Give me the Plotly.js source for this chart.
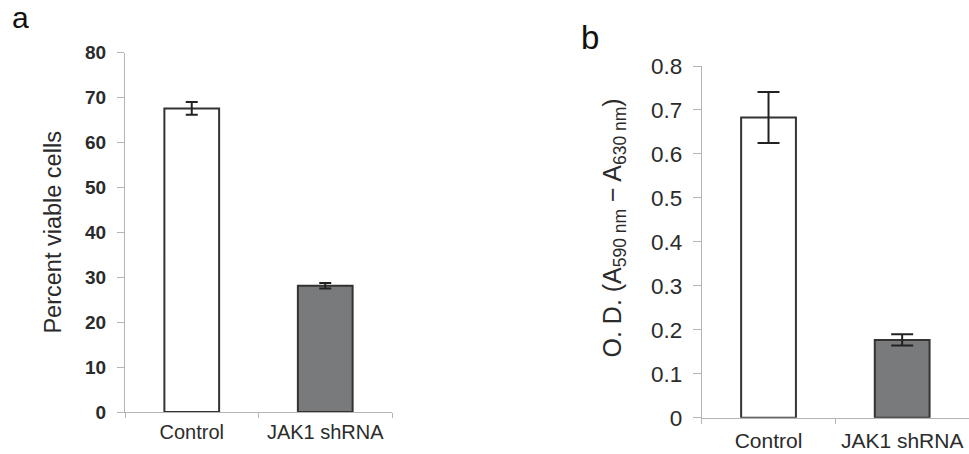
<!DOCTYPE html>
<html>
<head>
<meta charset="utf-8">
<script src="https://cdn.plot.ly/plotly-3.0.1.min.js"></script>
<style>
  html, body { margin: 0; padding: 0; background: #fff; }
  #chart { width: 969px; height: 454px; }
</style>
</head>
<body>
<div id="chart"></div>
<script>
// Cell viability (a) and crystal-violet O.D. (b), control vs JAK1 knockdown
const categories = ['Control', 'JAK1 shRNA'];
const viableMean = [67.6, 28.1];
const viableErr = [1.4, 0.6];
const odMean = [0.683, 0.177];
const odErr = [0.058, 0.013];
const barFill = ['#ffffff', '#787a7b'];

const FONT = 'Liberation Sans, Arial, Helvetica, sans-serif';
const INK = '#2b2b2b';
const AXIS = '#b4b4b4';

const barStyle = {
  color: barFill,
  line: { color: '#333333', width: 2 }
};

const traces = [
  {
    type: 'bar', x: categories, y: viableMean, xaxis: 'x', yaxis: 'y',
    width: 0.41, marker: barStyle, hoverinfo: 'x+y',
    error_y: { type: 'data', array: viableErr, visible: true, color: '#222', thickness: 2, width: 6 }
  },
  {
    type: 'bar', x: categories, y: odMean, xaxis: 'x2', yaxis: 'y2',
    width: 0.41, marker: barStyle, hoverinfo: 'x+y',
    error_y: { type: 'data', array: odErr, visible: true, color: '#222', thickness: 2, width: 11 }
  }
];

const xCommon = {
  type: 'category',
  showline: true, linecolor: AXIS, linewidth: 1,
  ticks: 'outside', tickson: 'boundaries', ticklen: 5, tickcolor: AXIS,
  showgrid: false, zeroline: false, fixedrange: true
};
const yCommon = {
  showline: true, linecolor: AXIS, linewidth: 1,
  ticks: 'outside', ticklen: 7, tickcolor: AXIS,
  showgrid: false, zeroline: false, fixedrange: true
};

const layout = {
  width: 969, height: 454,
  margin: { l: 0, r: 0, t: 0, b: 0 },
  paper_bgcolor: '#ffffff', plot_bgcolor: '#ffffff',
  showlegend: false,
  font: { family: FONT, color: INK },
  bargap: 0.59,
  xaxis: Object.assign({}, xCommon, {
    domain: [125 / 969, 392 / 969], anchor: 'y',
    tickfont: { family: FONT, size: 20, color: INK },
    ticklabelstandoff: 2
  }),
  yaxis: Object.assign({}, yCommon, {
    domain: [42 / 454, 401.3 / 454], anchor: 'x',
    range: [0, 80], dtick: 10,
    tickfont: { family: FONT, size: 19, color: INK, weight: 'bold' },
    ticklabelstandoff: 7,
    title: { text: 'Percent viable cells', font: { family: FONT, size: 23.5, color: INK }, standoff: 16 }
  }),
  xaxis2: Object.assign({}, xCommon, {
    domain: [701.7 / 969, 1], anchor: 'y2',
    tickfont: { family: FONT, size: 21, color: INK },
    ticklabelstandoff: 4
  }),
  yaxis2: Object.assign({}, yCommon, {
    domain: [36.3 / 454, 388 / 454], anchor: 'x2',
    range: [0, 0.8], dtick: 0.1, ticklen: 8,
    tickfont: { family: FONT, size: 22.5, color: INK },
    ticklabelstandoff: 6
  }),
  annotations: [
    { text: 'a', xref: 'paper', yref: 'paper', x: 10 / 969, y: 0.9615,
      xanchor: 'left', yanchor: 'middle', showarrow: false,
      font: { family: FONT, size: 30, color: '#111' } },
    { text: 'b', xref: 'paper', yref: 'paper', x: 579 / 969, y: 0.9185,
      xanchor: 'left', yanchor: 'middle', showarrow: false,
      font: { family: FONT, size: 33, color: '#111' } },
    // y-axis label of panel b, sits a little above the axis midpoint
    { text: 'O. D. (A<sub>590 nm</sub> \u2212 A<sub>630 nm</sub>)',
      xref: 'paper', yref: 'paper', x: 613 / 969, y: (454 - 228.5) / 454,
      xanchor: 'center', yanchor: 'middle', textangle: -90, showarrow: false,
      font: { family: FONT, size: 25, color: INK } }
  ]
};

Plotly.newPlot('chart', traces, layout, { displayModeBar: false, staticPlot: true });
</script>
</body>
</html>
